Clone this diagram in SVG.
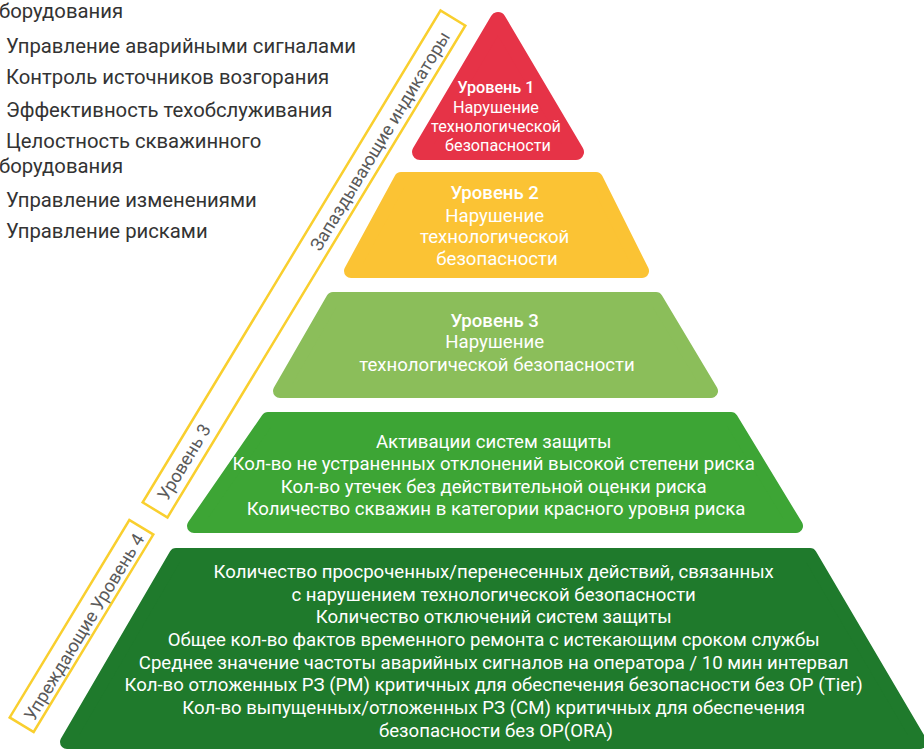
<svg xmlns="http://www.w3.org/2000/svg" width="924" height="750" viewBox="0 0 924 750">
  <style>
    .list { font-family: Roboto, "Liberation Sans", sans-serif; font-size: 20.3px; fill: #333333; }
    .tier { stroke-linejoin: round; }
    .lbl { font-family: Roboto, "Liberation Sans", sans-serif; fill: #ffffff; text-anchor: middle; font-size: 18.6px; }
    .lbl .h { font-weight: 500; }
    .band { fill: none; stroke: #F9CF2E; stroke-width: 2.5; }
    .band-text { font-family: Roboto, "Liberation Sans", sans-serif; font-size: 18px; fill: #5a5a5a; text-anchor: middle; }
  </style>
  <rect width="924" height="750" fill="#ffffff"/>

  <!-- indicator list, top left -->
  <g id="indicator-list" class="list">
    <text x="-1" y="18">борудования</text>
    <text x="6" y="53">Управление аварийными сигналами</text>
    <text x="6" y="84">Контроль источников возгорания</text>
    <text x="6" y="117">Эффективность техобслуживания</text>
    <text x="6" y="148">Целостность скважинного</text>
    <text x="-1" y="173">борудования</text>
    <text x="6" y="207">Управление изменениями</text>
    <text x="6" y="238">Управление рисками</text>
  </g>

  <!-- level 1 -->
  <g id="tier-1">
    <polygon class="tier" points="498,20 576,152 420,152" fill="#E63347" stroke="#E63347" stroke-width="16"/>
    <text class="lbl" style="font-size:16.2px">
      <tspan class="h" x="498" y="93">Уровень 1</tspan>
      <tspan x="498" y="113">Нарушение</tspan>
      <tspan x="498" y="132">технологической</tspan>
      <tspan x="498" y="151">безопасности</tspan>
    </text>
  </g>

  <!-- level 2 -->
  <g id="tier-2">
    <polygon class="tier" points="401,179 596,179 642,271 351,271" fill="#FBC334" stroke="#FBC334" stroke-width="14"/>
    <text class="lbl">
      <tspan class="h" x="497" y="199">Уровень 2</tspan>
      <tspan x="497" y="222">Нарушение</tspan>
      <tspan x="497" y="243">технологической</tspan>
      <tspan x="497" y="265">безопасности</tspan>
    </text>
  </g>

  <!-- level 3 -->
  <g id="tier-3">
    <polygon class="tier" points="333,299 656,299 711,391 280,391" fill="#8BBE5A" stroke="#8BBE5A" stroke-width="14"/>
    <text class="lbl">
      <tspan class="h" x="497" y="327">Уровень 3</tspan>
      <tspan x="497" y="348">Нарушение</tspan>
      <tspan x="497" y="371">технологической безопасности</tspan>
    </text>
  </g>

  <!-- level 3 indicators -->
  <g id="tier-3-indicators">
    <polygon class="tier" points="268,419 731,419 796,526 194,526" fill="#3DA535" stroke="#3DA535" stroke-width="14"/>
    <text class="lbl">
      <tspan x="496" y="448">Активации систем защиты</tspan>
      <tspan x="496" y="470">Кол-во не устраненных отклонений высокой степени риска</tspan>
      <tspan x="496" y="493">Кол-во утечек без действительной оценки риска</tspan>
      <tspan x="496" y="515">Количество скважин в категории красного уровня риска</tspan>
    </text>
  </g>

  <!-- level 4 indicators -->
  <g id="tier-4-indicators">
    <polygon class="tier" points="176,555 810,555 920,742 67,742" fill="#1F7A2C" stroke="#1F7A2C" stroke-width="14"/>
    <text class="lbl">
      <tspan x="496" y="578">Количество просроченных/перенесенных действий, связанных</tspan>
      <tspan x="496" y="601">с нарушением технологической безопасности</tspan>
      <tspan x="496" y="623">Количество отключений систем защиты</tspan>
      <tspan x="496" y="646">Общее кол-во фактов временного ремонта с истекающим сроком службы</tspan>
      <tspan x="496" y="669">Среднее значение частоты аварийных сигналов на оператора / 10 мин интервал</tspan>
      <tspan x="496" y="691">Кол-во отложенных РЗ (PM) критичных для обеспечения безопасности без OP (Tier)</tspan>
      <tspan x="496" y="714">Кол-во выпущенных/отложенных РЗ (CM) критичных для обеспечения</tspan>
      <tspan x="496" y="737">безопасности без OP(ORA)</tspan>
    </text>
  </g>

  <!-- lagging indicators band -->
  <g id="band-lagging">
    <rect class="band" x="-287.5" y="-14.5" width="575" height="29" transform="translate(304,264) rotate(-58.8)"/>
    <text class="band-text" dy="0.35em" transform="translate(380,141) rotate(-58.8)">Запаздывающие индикаторы</text>
    <text class="band-text" dy="0.35em" transform="translate(184,462) rotate(-58.8)">Уровень 3</text>
  </g>

  <!-- leading indicators band -->
  <g id="band-leading">
    <rect class="band" x="-115.5" y="-14" width="231" height="28" transform="translate(81.5,626) rotate(-58.8)"/>
    <text class="band-text" dy="0.35em" transform="translate(84,627) rotate(-58.8)">Упреждающие Уровень 4</text>
  </g>
</svg>
